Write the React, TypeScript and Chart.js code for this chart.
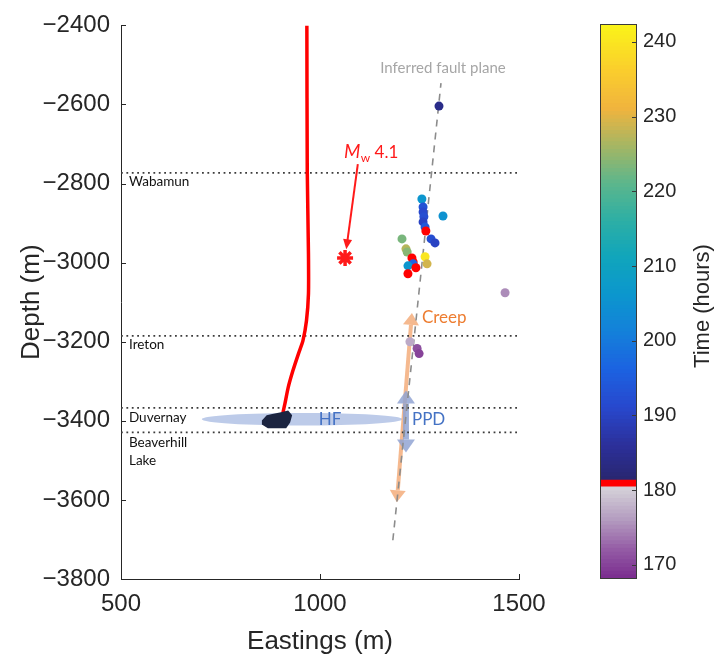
import React, { useEffect, useRef } from 'react';
import { Chart, registerables } from 'chart.js';

Chart.register(...registerables);

// ---------- axes ----------
const X_MIN = 500;
const X_MAX = 1500;
const Y_MIN = -3800;
const Y_MAX = -2400;
const xTicks = [500, 1000, 1500];
const yTicks = [-3800, -3600, -3400, -3200, -3000, -2800, -2600, -2400];

// ---------- formation tops ----------
const formationDepths = [-2773, -3185, -3367, -3429];
const formationLabels = ['Wabamun', 'Ireton', 'Duvernay', 'Beaverhill', 'Lake'];
const formationLabelY = [-2796, -3207, -3391, -3454, -3500];
const formationLabelX = 520;

// ---------- well trajectory ----------
const wellX = [967, 968, 971, 971, 966, 957, 946, 932, 920, 912, 907];
const wellY = [-2400, -2768, -2977, -3079, -3147, -3198, -3230, -3273, -3316, -3356, -3379];

// well heel (dark blob)
const blobX = [854, 866, 880, 899, 920, 930, 925, 915, 869, 854];
const blobY = [-3399, -3386, -3383, -3379, -3374, -3386, -3404, -3419, -3419, -3409];

// ---------- Mw 4.1 event ----------
const mwX = [1063];
const mwY = [-2988];
const mwArrowX = [1095, 1066];
const mwArrowY = [-2751, -2966];
const mwLabelX = 1060;
const mwLabelY = -2735;

// ---------- inferred fault plane ----------
const faultX = [1183, 1304];
const faultY = [-3702, -2546];
const faultLabelX = 1309;
const faultLabelY = -2508;

// ---------- HF / PPD / Creep ----------
const hfCenterX = 955;
const hfCenterY = -3396;
const hfHalfWidth = 252;
const hfHalfHeight = 16;
const hfLabelX = 1025;
const ppdX = [1216, 1216];
const ppdY = [-3323, -3480];
const ppdLabelX = 1231;
const creepX = [1231, 1193];
const creepY = [-3127, -3606];
const creepLabelX = 1256;
const creepLabelY = -3139;

// ---------- seismic events ----------
const eventX = [1299, 1256, 1259, 1259, 1261, 1259, 1264, 1266, 1309, 1279, 1289, 1206, 1216, 1219, 1264, 1269, 1231, 1234, 1234, 1221, 1241, 1221, 1465, 1226, 1244, 1249];
const eventY = [-2604, -2839, -2859, -2872, -2884, -2897, -2910, -2920, -2882, -2940, -2950, -2940, -2965, -2973, -2985, -3003, -2988, -2998, -3003, -3008, -3013, -3028, -3076, -3200, -3217, -3230];
const eventTime = [184, 206, 193, 191, 192, 190, 194, 181, 205, 192, 190, 223, 227, 224, 240, 229, 181, 181, 196, 206, 181, 181, 175, 177, 171, 170];

// ---------- colorbar ----------
const CB_MIN = 168.1;
const CB_MAX = 242.4;
const cbTicks = [170, 180, 190, 200, 210, 220, 230, 240];
const RED_LO = 180.4;
const RED_HI = 181.3;
const lowStopsT = [168.1, 172, 176, 180.4];
const lowStopsC = [[122, 44, 142], [148, 92, 165], [180, 156, 192], [214, 212, 218]];
const highStopsT = [181.3, 186, 191, 196, 201, 206, 211, 216, 221, 226, 231, 236, 242.4];
const highStopsC = [[40, 38, 112], [44, 48, 155], [40, 72, 205], [28, 98, 225], [20, 128, 218], [12, 150, 206], [16, 165, 188], [45, 175, 165], [92, 182, 140], [165, 182, 100], [240, 180, 62], [250, 205, 45], [250, 245, 24]];

function interp(ts: number[], cs: number[][], t: number): string {
  if (t <= ts[0]) return `rgb(${cs[0].join(',')})`;
  for (let i = 0; i < ts.length - 1; i++) {
    if (t <= ts[i + 1]) {
      const f = (t - ts[i]) / (ts[i + 1] - ts[i]);
      const c = cs[i].map((v, k) => Math.round(v + (cs[i + 1][k] - v) * f));
      return `rgb(${c.join(',')})`;
    }
  }
  return `rgb(${cs[cs.length - 1].join(',')})`;
}

function colorFor(t: number): string {
  if (t >= RED_LO && t <= RED_HI) return 'rgb(255,0,0)';
  if (t < RED_LO) return interp(lowStopsT, lowStopsC, t);
  return interp(highStopsT, highStopsC, t);
}

const AXIS_COLOR = '#262626';
const TICK_FONT = 'Liberation Sans';
const NOTE_FONT = 'Lato';

function drawDoubleArrow(ctx: CanvasRenderingContext2D, x1: number, y1: number, x2: number, y2: number, color: string, shaftW: number, headLen: number, headW: number) {
  const dx = x2 - x1, dy = y2 - y1;
  const len = Math.hypot(dx, dy);
  const ux = dx / len, uy = dy / len;
  const nx = -uy, ny = ux;
  ctx.save();
  ctx.fillStyle = color;
  ctx.strokeStyle = color;
  ctx.lineWidth = shaftW;
  ctx.beginPath();
  ctx.moveTo(x1 + ux * headLen, y1 + uy * headLen);
  ctx.lineTo(x2 - ux * headLen, y2 - uy * headLen);
  ctx.stroke();
  const head = (tx: number, ty: number, dirx: number, diry: number) => {
    const bx = tx - dirx * headLen, by = ty - diry * headLen;
    ctx.beginPath();
    ctx.moveTo(tx, ty);
    ctx.lineTo(bx + nx * headW / 2, by + ny * headW / 2);
    ctx.lineTo(bx - nx * headW / 2, by - ny * headW / 2);
    ctx.closePath();
    ctx.fill();
  };
  head(x1, y1, -ux, -uy);
  head(x2, y2, ux, uy);
  ctx.restore();
}

const annotPlugin = {
  id: 'annot',
  beforeDatasetsDraw(chart: any) {
    const { ctx, scales } = chart;
    const X = (v: number) => scales.x.getPixelForValue(v);
    const Y = (v: number) => scales.y.getPixelForValue(v);
    ctx.save();
    // HF ellipse
    ctx.fillStyle = 'rgba(172,190,228,0.8)';
    ctx.beginPath();
    ctx.ellipse(X(hfCenterX), Y(hfCenterY), Math.abs(X(hfCenterX + hfHalfWidth) - X(hfCenterX)), Math.abs(Y(hfCenterY + hfHalfHeight) - Y(hfCenterY)), 0, 0, Math.PI * 2);
    ctx.fill();
    // creep & PPD arrows
    drawDoubleArrow(ctx, X(creepX[0]), Y(creepY[0]), X(creepX[1]), Y(creepY[1]), 'rgba(244,177,131,0.9)', 4, 12, 16);
    drawDoubleArrow(ctx, X(ppdX[0]), Y(ppdY[0]), X(ppdX[1]), Y(ppdY[1]), 'rgba(146,164,212,0.85)', 6, 13, 18);
    ctx.restore();
  },
  afterDatasetsDraw(chart: any) {
    const { ctx, scales, chartArea } = chart;
    const X = (v: number) => scales.x.getPixelForValue(v);
    const Y = (v: number) => scales.y.getPixelForValue(v);
    ctx.save();
    // well heel blob
    ctx.fillStyle = '#1b2440';
    ctx.beginPath();
    blobX.forEach((bx, i) => (i === 0 ? ctx.moveTo(X(bx), Y(blobY[i])) : ctx.lineTo(X(bx), Y(blobY[i]))));
    ctx.closePath();
    ctx.fill();
    // Mw arrow
    const ax1 = X(mwArrowX[0]), ay1 = Y(mwArrowY[0]), ax2 = X(mwArrowX[1]), ay2 = Y(mwArrowY[1]);
    const L = Math.hypot(ax2 - ax1, ay2 - ay1);
    const ux = (ax2 - ax1) / L, uy = (ay2 - ay1) / L;
    ctx.strokeStyle = '#ff1a1a';
    ctx.fillStyle = '#ff1a1a';
    ctx.lineWidth = 2;
    ctx.beginPath();
    ctx.moveTo(ax1, ay1);
    ctx.lineTo(ax2 - ux * 8, ay2 - uy * 8);
    ctx.stroke();
    ctx.beginPath();
    ctx.moveTo(ax2, ay2);
    ctx.lineTo(ax2 - ux * 10 - uy * 4.5, ay2 - uy * 10 + ux * 4.5);
    ctx.lineTo(ax2 - ux * 10 + uy * 4.5, ay2 - uy * 10 - ux * 4.5);
    ctx.closePath();
    ctx.fill();
    // Mw label
    ctx.textBaseline = 'alphabetic';
    ctx.textAlign = 'left';
    let lx = X(mwLabelX);
    const ly = Y(mwLabelY);
    ctx.font = `italic 19px ${NOTE_FONT}`;
    ctx.fillText('M', lx, ly);
    lx += ctx.measureText('M').width + 0.5;
    ctx.font = `12px ${NOTE_FONT}`;
    ctx.fillText('w', lx, ly + 4);
    lx += ctx.measureText('w').width;
    ctx.font = `17px ${NOTE_FONT}`;
    ctx.fillText(' 4.1', lx, ly);
    // fault label
    ctx.textAlign = 'center';
    ctx.textBaseline = 'middle';
    ctx.fillStyle = '#a6a6a6';
    ctx.font = `15px ${NOTE_FONT}`;
    ctx.fillText('Inferred fault plane', X(faultLabelX), Y(faultLabelY));
    // HF / PPD / Creep labels
    ctx.font = `17px ${NOTE_FONT}`;
    ctx.fillStyle = '#4472c4';
    ctx.fillText('HF', X(hfLabelX), Y(hfCenterY));
    ctx.textAlign = 'left';
    ctx.fillText('PPD', X(ppdLabelX), Y(hfCenterY));
    ctx.fillStyle = '#ed7d31';
    ctx.fillText('Creep', X(creepLabelX), Y(creepLabelY));
    // formation labels
    ctx.fillStyle = '#111';
    ctx.font = `13.5px ${NOTE_FONT}`;
    formationLabels.forEach((t, i) => ctx.fillText(t, X(formationLabelX), Y(formationLabelY[i])));
    // inward ticks
    ctx.strokeStyle = AXIS_COLOR;
    ctx.lineWidth = 1;
    ctx.beginPath();
    xTicks.forEach((v) => {
      const p = Math.round(X(v)) + 0.5;
      ctx.moveTo(p, chartArea.bottom);
      ctx.lineTo(p, chartArea.bottom - 5);
    });
    yTicks.forEach((v) => {
      const p = Math.round(Y(v)) + 0.5;
      ctx.moveTo(chartArea.left, p);
      ctx.lineTo(chartArea.left + 5, p);
    });
    ctx.stroke();
    ctx.restore();
  },
};

const cbPlugin = {
  id: 'cbFrame',
  afterDraw(chart: any) {
    const { ctx, chartArea, scales } = chart;
    ctx.save();
    ctx.strokeStyle = '#3a3a3a';
    ctx.lineWidth = 1;
    ctx.strokeRect(Math.round(chartArea.left) + 0.5, Math.round(chartArea.top) + 0.5, Math.round(chartArea.right - chartArea.left) - 1, Math.round(chartArea.bottom - chartArea.top) - 1);
    ctx.beginPath();
    cbTicks.forEach((v) => {
      const p = Math.round(scales.y.getPixelForValue(v)) + 0.5;
      ctx.moveTo(chartArea.right, p);
      ctx.lineTo(chartArea.right - 5, p);
    });
    ctx.stroke();
    ctx.translate(123, 306);
    ctx.rotate(-Math.PI / 2);
    ctx.fillStyle = AXIS_COLOR;
    ctx.font = `22px ${TICK_FONT}`;
    ctx.textAlign = 'center';
    ctx.textBaseline = 'middle';
    ctx.fillText('Time (hours)', 0, 0);
    ctx.restore();
  },
};

const fmt = (v: number) => String(v).replace('-', '\u2212');

export default function App() {
  const mainRef = useRef<HTMLCanvasElement>(null);
  const cbRef = useRef<HTMLCanvasElement>(null);

  useEffect(() => {
    const lineDs = (xs: number[], ys: number[], extra: any) => ({
      type: 'line',
      data: xs.map((x, i) => ({ x, y: ys[i] })),
      showLine: true,
      pointRadius: 0,
      fill: false,
      ...extra,
    });
    const datasets: any[] = [];
    formationDepths.forEach((d) => {
      datasets.push(lineDs([X_MIN, X_MAX], [d, d], { borderColor: '#3c3c3c', borderWidth: 1.7, borderDash: [1.8, 3.6], order: 6 }));
    });
    datasets.push(lineDs(faultX, faultY, { borderColor: '#8c8c8c', borderWidth: 1.6, borderDash: [7, 6], order: 5 }));
    datasets.push(lineDs(wellX, wellY, { borderColor: '#ff0000', borderWidth: 3.5, tension: 0.2, order: 3 }));
    datasets.push({
      type: 'scatter',
      data: mwX.map((x, i) => ({ x, y: mwY[i] })),
      pointStyle: 'star',
      pointRadius: 8,
      borderColor: '#ff1a1a',
      borderWidth: 3.5,
      backgroundColor: '#ff1a1a',
      order: 2,
    });
    datasets.push({
      type: 'scatter',
      data: eventX.map((x, i) => ({ x, y: eventY[i] })),
      pointRadius: 4.5,
      borderWidth: 0,
      backgroundColor: eventTime.map((t) => colorFor(t)),
      order: 1,
    });

    const main = new Chart(mainRef.current as HTMLCanvasElement, {
      type: 'scatter',
      data: { datasets },
      options: {
        animation: false,
        responsive: false,
        devicePixelRatio: 1,
        layout: { padding: { left: 0, top: 24, right: 41, bottom: 0 } },
        plugins: { legend: { display: false }, tooltip: { enabled: false } },
        scales: {
          x: {
            type: 'linear',
            min: X_MIN,
            max: X_MAX,
            afterBuildTicks: (s: any) => { s.ticks = xTicks.map((value) => ({ value })); },
            afterFit: (s: any) => { s.height = 78; },
            grid: { display: false, drawTicks: false },
            border: { display: true, color: AXIS_COLOR, width: 1 },
            ticks: { font: { family: TICK_FONT, size: 24 }, color: AXIS_COLOR, padding: 11, maxRotation: 0, autoSkip: false, callback: (v: any) => fmt(v) },
            title: { display: true, text: 'Eastings (m)', font: { family: TICK_FONT, size: 26 }, color: AXIS_COLOR, padding: { top: 0, bottom: 0 } },
          },
          y: {
            type: 'linear',
            min: Y_MIN,
            max: Y_MAX,
            afterBuildTicks: (s: any) => { s.ticks = yTicks.map((value) => ({ value })); },
            afterFit: (s: any) => { s.width = 121; },
            grid: { display: false, drawTicks: false },
            border: { display: true, color: AXIS_COLOR, width: 1 },
            ticks: { font: { family: TICK_FONT, size: 24 }, color: AXIS_COLOR, padding: 11, autoSkip: false, callback: (v: any) => fmt(v) },
            title: { display: true, text: 'Depth (m)', font: { family: TICK_FONT, size: 26 }, color: AXIS_COLOR, padding: { top: 16, bottom: 0 } },
          },
        },
      } as any,
      plugins: [annotPlugin],
    } as any);

    // colorbar segments
    const segs: number[][] = [];
    const addRange = (a: number, b: number, n: number) => {
      for (let i = 0; i < n; i++) segs.push([a + ((b - a) * i) / n, a + ((b - a) * (i + 1)) / n]);
    };
    addRange(CB_MIN, RED_LO, 24);
    segs.push([RED_LO, RED_HI]);
    addRange(RED_HI, CB_MAX, 120);
    const cbDatasets = segs.map(([a, b]) => ({
      data: [[a, Math.min(b + 0.03, CB_MAX)]],
      backgroundColor: colorFor((a + b) / 2),
      borderWidth: 0,
      grouped: false,
      barPercentage: 1,
      categoryPercentage: 1,
    }));
    const cb = new Chart(cbRef.current as HTMLCanvasElement, {
      type: 'bar',
      data: { labels: [''], datasets: cbDatasets },
      options: {
        animation: false,
        responsive: false,
        devicePixelRatio: 1,
        layout: { padding: { left: 20, top: 24, right: 0, bottom: 78 } },
        plugins: { legend: { display: false }, tooltip: { enabled: false } },
        scales: {
          x: { display: false },
          y: {
            position: 'right',
            min: CB_MIN,
            max: CB_MAX,
            afterBuildTicks: (s: any) => { s.ticks = cbTicks.map((value) => ({ value })); },
            afterFit: (s: any) => { s.width = 78; },
            grid: { display: false, drawTicks: false },
            border: { display: false },
            ticks: { font: { family: TICK_FONT, size: 20 }, color: AXIS_COLOR, padding: 6, autoSkip: false },
          },
        },
      } as any,
      plugins: [cbPlugin],
    } as any);

    return () => {
      main.destroy();
      cb.destroy();
    };
  }, []);

  return (
    <div style={{ position: 'fixed', left: 0, top: 0, width: 715, height: 657, background: '#fff' }}>
      <canvas ref={mainRef} width={560} height={657} style={{ position: 'absolute', left: 0, top: 0, width: 560, height: 657 }} />
      <canvas ref={cbRef} width={135} height={657} style={{ position: 'absolute', left: 580, top: 0, width: 135, height: 657 }} />
    </div>
  );
}
